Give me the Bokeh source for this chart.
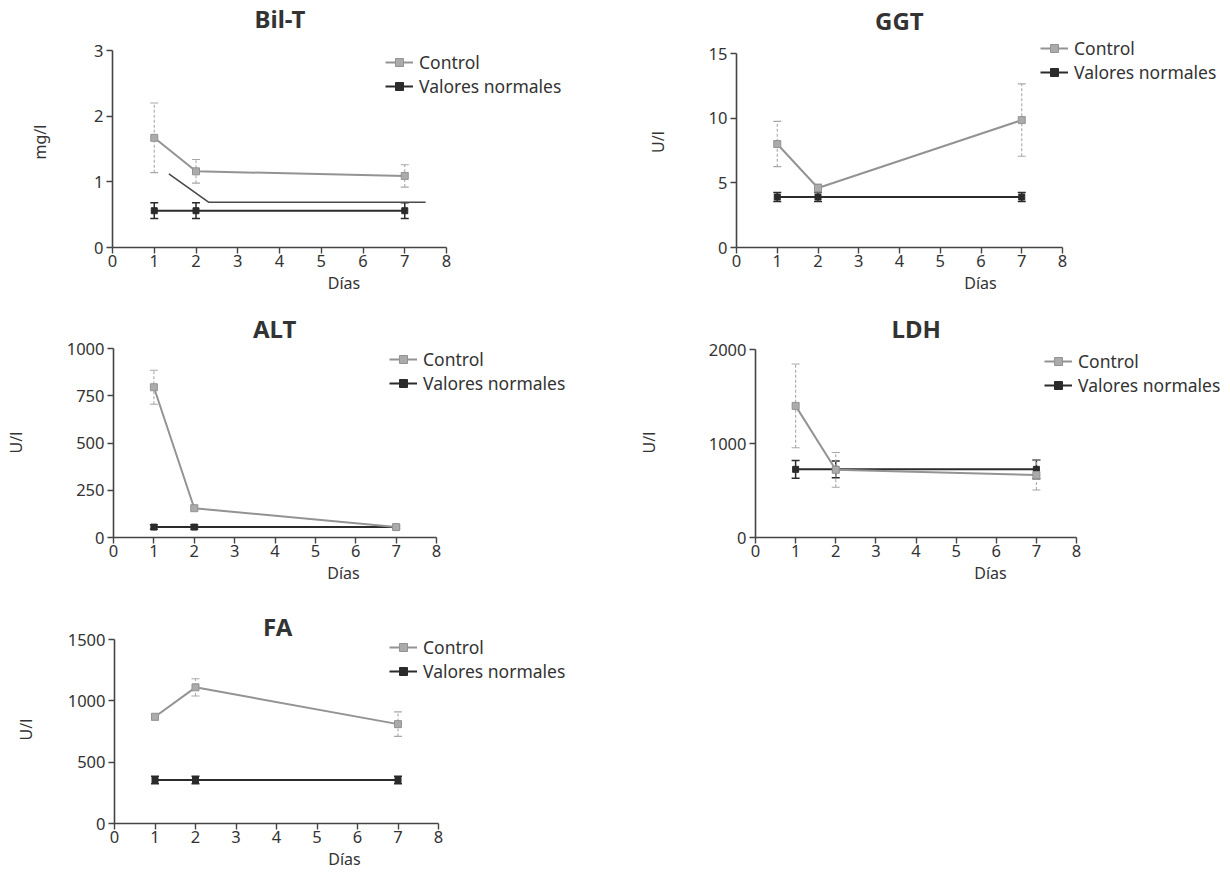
from bokeh.plotting import figure
from bokeh.models import (Range1d, FixedTicker, ColumnDataSource, Whisker, TeeHead,
                          Legend, LegendItem)
from bokeh.layouts import column, row
from bokeh.embed import file_html
from bokeh.resources import INLINE

# ---------------- data ----------------
dias = [1, 2, 7]
x_ticks = [0, 1, 2, 3, 4, 5, 6, 7, 8]

bilt_control = [1.67, 1.16, 1.09]
bilt_control_err = [0.53, 0.18, 0.17]
bilt_normal = [0.56, 0.56, 0.56]
bilt_normal_err = [0.12, 0.12, 0.12]
bilt_ref_x = [1.35, 2.3, 7.5]
bilt_ref_y = [1.12, 0.69, 0.69]
bilt_yticks = [0, 1, 2, 3]

ggt_control = [8.0, 4.6, 9.85]
ggt_control_err = [1.75, 0.3, 2.8]
ggt_normal = [3.9, 3.9, 3.9]
ggt_normal_err = [0.35, 0.35, 0.35]
ggt_yticks = [0, 5, 10, 15]

alt_control = [795, 155, 55]
alt_control_err = [90, 12, 8]
alt_normal = [55, 55, 55]
alt_normal_err = [12, 12, 6]
alt_yticks = [0, 250, 500, 750, 1000]

ldh_control = [1400, 720, 665]
ldh_control_err = [445, 185, 160]
ldh_normal = [725, 725, 725]
ldh_normal_err = [95, 90, 100]
ldh_yticks = [0, 1000, 2000]

fa_control = [870, 1110, 810]
fa_control_err = [25, 70, 100]
fa_normal = [355, 355, 355]
fa_normal_err = [30, 30, 30]
fa_yticks = [0, 500, 1000, 1500]

FONT = "Noto Sans"
TXT = "#333333"
C_CTRL = "#939393"
C_CTRL_ERR = "#a8a8a8"
C_NORM = "#2b2b2b"
LEG_H = 48  # two legend rows


def panel(title, ylabel, yticks, control, cerr, normal, nerr,
          axis_w, axis_h, frame_w, extra_top, bl, bt, br, bb,
          title_w, title_s, title_va, yl_standoff, leg_x, leg_top):
    """axis_w/axis_h: pixel extent of the 0..8 / 0..ymax axes.
    frame_w: drawing area width (extends right for the legend);
    extra_top: pixels the drawing area extends above the y axis."""
    xmax = x_ticks[-1]
    ymax = yticks[-1]
    frame_h = axis_h + extra_top
    p = figure(frame_width=frame_w, frame_height=frame_h,
               min_border_left=bl, min_border_top=bt,
               min_border_right=br, min_border_bottom=bb,
               x_range=Range1d(0, xmax * frame_w / axis_w),
               y_range=Range1d(0, ymax * frame_h / axis_h),
               output_backend="svg", toolbar_location=None, title=title)
    p.outline_line_color = None
    p.grid.visible = False
    p.background_fill_color = "white"
    p.border_fill_color = "white"

    p.title.text_font = FONT
    p.title.text_font_size = "24px"
    p.title.text_font_style = "bold"
    p.title.text_color = TXT
    p.title.align = "left"
    p.title.vertical_align = title_va
    p.title.offset = axis_w / 2 - title_w / 2
    p.title.standoff = title_s

    for ax in (p.xaxis[0], p.yaxis[0]):
        ax.axis_line_color = "#444444"
        ax.axis_line_width = 1.6
        ax.major_tick_line_color = "#444444"
        ax.major_tick_line_width = 1.4
        ax.major_tick_out = 6
        ax.major_tick_in = 0
        ax.minor_tick_line_color = None
        ax.major_label_text_font = FONT
        ax.major_label_text_font_size = "16.5px"
        ax.major_label_text_color = TXT
        ax.axis_label_text_font = FONT
        ax.axis_label_text_font_size = "16px"
        ax.axis_label_text_font_style = "normal"
        ax.axis_label_text_color = TXT
    p.xaxis.ticker = FixedTicker(ticks=x_ticks)
    p.yaxis.ticker = FixedTicker(ticks=yticks)
    p.xaxis.bounds = (0, xmax)
    p.yaxis.bounds = (0, ymax)
    p.xaxis.major_label_standoff = 1
    p.yaxis.major_label_standoff = 3
    p.xaxis.axis_label = "Días"
    p.xaxis.axis_label_standoff = 2
    p.yaxis.axis_label = ylabel
    p.yaxis.axis_label_standoff = yl_standoff

    src_n = ColumnDataSource(dict(x=dias, y=normal,
                                  lo=[v - e for v, e in zip(normal, nerr)],
                                  hi=[v + e for v, e in zip(normal, nerr)]))
    src_c = ColumnDataSource(dict(x=dias, y=control,
                                  lo=[v - e for v, e in zip(control, cerr)],
                                  hi=[v + e for v, e in zip(control, cerr)]))

    wn = Whisker(source=src_n, base="x", lower="lo", upper="hi",
                 line_color=C_NORM, line_width=1.5,
                 upper_head=TeeHead(size=8, line_color=C_NORM, line_width=1.5),
                 lower_head=TeeHead(size=8, line_color=C_NORM, line_width=1.5))
    wc = Whisker(source=src_c, base="x", lower="lo", upper="hi",
                 line_color=C_CTRL_ERR, line_width=1.1, line_dash="3 2",
                 upper_head=TeeHead(size=8, line_color=C_CTRL_ERR, line_width=1.1),
                 lower_head=TeeHead(size=8, line_color=C_CTRL_ERR, line_width=1.1))
    p.add_layout(wn)
    p.add_layout(wc)

    ln = p.line("x", "y", source=src_n, line_color=C_NORM, line_width=2)
    mn = p.scatter("x", "y", source=src_n, marker="square", size=6,
                   fill_color=C_NORM, line_color=C_NORM)
    lc = p.line("x", "y", source=src_c, line_color=C_CTRL, line_width=2)
    mc = p.scatter("x", "y", source=src_c, marker="square", size=7,
                   fill_color="#ababab", line_color=C_CTRL)

    leg = Legend(items=[LegendItem(label="Control", renderers=[lc, mc]),
                        LegendItem(label="Valores normales", renderers=[ln, mn])],
                 location=(leg_x, axis_h - leg_top - LEG_H))
    leg.glyph_width = 28
    leg.glyph_height = 20
    leg.label_height = 20
    leg.label_standoff = 6
    leg.spacing = -4
    leg.padding = 0
    leg.margin = 0
    leg.border_line_color = None
    leg.background_fill_alpha = 0
    leg.label_text_font = FONT
    leg.label_text_font_size = "17.5px"
    leg.label_text_color = TXT
    p.add_layout(leg, "center")
    return p


# row 1: frames 36..247 ; row 2: 347..537 ; row 3: 635..823
p1 = panel("Bil-T", "mg/l", bilt_yticks, bilt_control, bilt_control_err,
           bilt_normal, bilt_normal_err,
           334, 197, 463, 14, 112, 36, 25, 49, 50, 0, "top", 40, 273, 0)
p1.line(bilt_ref_x, bilt_ref_y, line_color="#4a4a4a", line_width=1.6)

p2 = panel("GGT", "U/l", ggt_yticks, ggt_control, ggt_control_err,
           ggt_normal, ggt_normal_err,
           326, 194, 488, 17, 136, 36, 0, 49, 49, 0, "bottom", 37, 304, -17)

p3 = panel("ALT", "U/l", alt_yticks, alt_control, alt_control_err,
           alt_normal, alt_normal_err,
           323, 189, 460, 1, 113, 51, 27, 49, 44, 6, "bottom", 37, 276, -1)

p4 = panel("LDH", "U/l", ldh_yticks, ldh_control, ldh_control_err,
           ldh_normal, ldh_normal_err,
           321, 188, 470, 2, 155, 51, 0, 49, 49, 6, "bottom", 46, 289, 0)

p5 = panel("FA", "U/l", fa_yticks, fa_control, fa_control_err,
           fa_normal, fa_normal_err,
           324, 184, 460, 4, 114, 49, 26, 49, 27, -14, "bottom", 28, 275, -4)

layout = column(row(p1, p2), row(p3, p4), row(p5))
open("out.html", "w").write(file_html(layout, INLINE))
